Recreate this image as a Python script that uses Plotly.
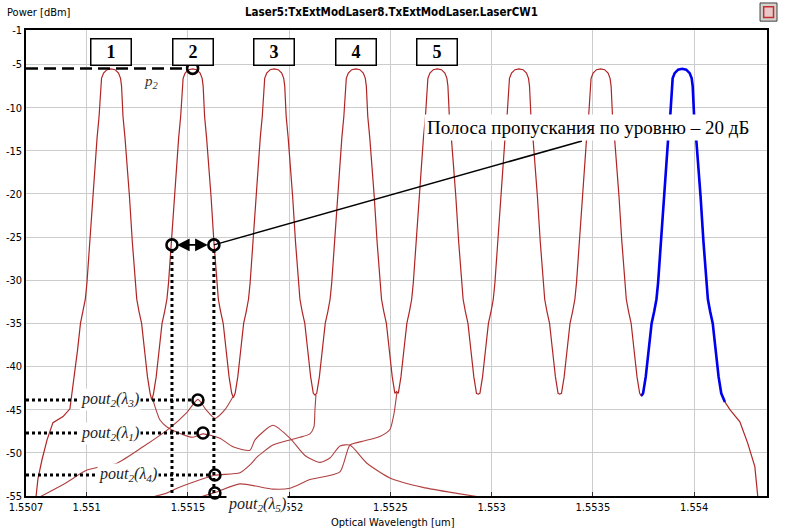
import plotly.graph_objects as go

# ---------------- data ----------------
# channel centre wavelengths [um]
CH_CENTER_UM = [1.55112, 1.551523, 1.551926, 1.552329, 1.552732, 1.553135, 1.553538, 1.553941]
# half-profile of one channel: offset from centre [pm] and power [dBm]
PEAK_OFFSET_PM = [0, 20, 37, 47, 52, 55, 59, 69, 79, 91, 105, 119, 127, 138, 151, 165, 180, 193]
PEAK_LEVEL_DB = [-5.5, -5.6, -6.0, -6.6, -7.5, -9.0, -11.0, -13.5, -16.5, -20.3, -25.5, -30.3,
                 -32.2, -33.6, -35.0, -38.0, -41.2, -43.1]
# dips between neighbouring channels [dBm]
VALLEY_DB = [-43.9, -43.6, -43.3, -42.9, -43.2, -43.2, -43.4]
# outer tails of the spectrum
LEFT_TAIL_UM = [1.550749, 1.550759, 1.550779, 1.550804, 1.550833, 1.550883, 1.550917]
LEFT_TAIL_DB = [-55.2, -53.0, -50.8, -48.5, -46.5, -45.8, -44.9]
RIGHT_TAIL_UM = [1.554152, 1.554177, 1.554226, 1.554265, 1.554300, 1.554315]
RIGHT_TAIL_DB = [-44.1, -45.0, -46.4, -48.9, -51.6, -55.2]

# crosstalk tails
CH1_TAIL_UM = [1.5513272, 1.5513617, 1.5513963, 1.5514457, 1.5515247, 1.5515741, 1.551658, 1.5517222,
               1.5518062, 1.5518309, 1.5519198, 1.5520037, 1.5520778, 1.5521519, 1.5522012, 1.5522506,
               1.5523, 1.552384, 1.5524975, 1.5526605, 1.5528284, 1.5529914]
CH1_TAIL_DB = [-43.9, -46.2, -47.0, -47.6, -48.2, -47.8, -48.3, -49.3, -49.7, -48.5, -46.8, -48.3,
               -50.3, -51.1, -50.6, -49.2, -49.1, -51.2, -52.9, -54.0, -54.7, -55.3]
CH3_TAIL_UM = [1.5507691, 1.5508333, 1.5509025, 1.5510012, 1.5511494, 1.5512778, 1.5514111, 1.5514951,
               1.5515494, 1.5515889, 1.5516333, 1.5516827, 1.5517222]
CH3_TAIL_DB = [-55.1, -54.3, -53.4, -52.0, -51.2, -49.3, -47.1, -45.3, -43.8, -45.0, -46.0, -45.0, -43.5]
CH4_TAIL_UM = [1.5513272, 1.5513963, 1.5514457, 1.5515247, 1.5516333, 1.5517568, 1.5518062, 1.5518407,
               1.5519198, 1.5520037, 1.5520531, 1.5521025, 1.5521222, 1.5521272, 1.5521321]
CH4_TAIL_DB = [-55.1, -54.65, -54.1, -53.4, -52.6, -52.3, -51.4, -50.5, -49.1, -48.5, -48.2, -47.8,
               -47.0, -45.0, -43.3]
CH5_TAIL_UM = [1.5515346, 1.5516333, 1.5517568, 1.5519198, 1.5520037, 1.5521025, 1.5522506, 1.5523,
               1.5523741, 1.5524481, 1.5524975, 1.5525173, 1.5525321]
CH5_TAIL_DB = [-55.3, -54.6, -53.6, -54.2, -54.1, -53.1, -52.2, -49.1, -48.6, -48.1, -47.3, -45.5, -43.0]

X_TICKS = [1.5507, 1.551, 1.5515, 1.552, 1.5525, 1.553, 1.5535, 1.554, 1.55436]
X_TICK_TEXT = ["1.5507", "1.551", "1.5515", "1.552", "1.5525", "1.553", "1.5535", "1.554", "1.55436"]
Y_TICKS = [-1, -5, -10, -15, -20, -25, -30, -35, -40, -45, -50, -55]

BOX_LABELS = ["1", "2", "3", "4", "5"]
BOX_LEVEL_DB = -3.55

P2_LEVEL_DB = -5.45
BW_LEVEL_DB = -25.9
BW_EDGES_UM = [1.551421, 1.551628]
POUT_LABELS = ["<i>pout<sub>2</sub>(λ<sub>3</sub>)</i>", "<i>pout<sub>2</sub>(λ<sub>1</sub>)</i>",
               "<i>pout<sub>2</sub>(λ<sub>4</sub>)</i>", "<i>pout<sub>2</sub>(λ<sub>5</sub>)</i>"]
POUT_POINT_UM = [1.551549, 1.551574, 1.551633, 1.551633]
POUT_POINT_DB = [-43.87, -47.7, -52.56, -54.65]
POUT_LABEL_UM = [1.551115, 1.551115, 1.551204, 1.551841]
POUT_LABEL_DB = [-43.87, -47.7, -52.5]

# ---------------- build traces ----------------
def channel(c):
    xs, ys = [], []
    for off, lv in reversed(list(zip(PEAK_OFFSET_PM[1:], PEAK_LEVEL_DB[1:]))):
        xs.append(c - off * 1e-6); ys.append(lv)
    xs.append(c); ys.append(PEAK_LEVEL_DB[0])
    for off, lv in zip(PEAK_OFFSET_PM[1:], PEAK_LEVEL_DB[1:]):
        xs.append(c + off * 1e-6); ys.append(lv)
    return xs, ys

env_x, env_y = list(LEFT_TAIL_UM), list(LEFT_TAIL_DB)
for k, c in enumerate(CH_CENTER_UM):
    cx, cy = channel(c)
    env_x += cx; env_y += cy
    if k < len(VALLEY_DB):
        env_x.append((c + CH_CENTER_UM[k + 1]) / 2); env_y.append(VALLEY_DB[k])
env_x += RIGHT_TAIL_UM; env_y += RIGHT_TAIL_DB

bx, by = channel(CH_CENTER_UM[-1])
blue_x = [(CH_CENTER_UM[-2] + CH_CENTER_UM[-1]) / 2] + bx + [RIGHT_TAIL_UM[0]]
blue_y = [VALLEY_DB[-1]] + by + [RIGHT_TAIL_DB[0]]

RED = "#b02424"
fig = go.Figure()
for tx, ty in [(CH1_TAIL_UM, CH1_TAIL_DB), (CH3_TAIL_UM, CH3_TAIL_DB),
               (CH4_TAIL_UM, CH4_TAIL_DB), (CH5_TAIL_UM, CH5_TAIL_DB)]:
    fig.add_trace(go.Scatter(x=tx, y=ty, mode="lines",
                             line=dict(color="#b04040", width=1.1, shape="spline", smoothing=0.6),
                             hoverinfo="skip"))
fig.add_trace(go.Scatter(x=env_x, y=env_y, mode="lines", line=dict(color=RED, width=1.2), hoverinfo="skip"))
fig.add_trace(go.Scatter(x=blue_x, y=blue_y, mode="lines", line=dict(color="#0000f0", width=2.6), hoverinfo="skip"))

# ---------------- annotation graphics ----------------
shapes = []
shapes.append(dict(type="line", xref="x", yref="y", x0=X_TICKS[0], x1=CH_CENTER_UM[1] - 0.00004,
                   y0=P2_LEVEL_DB, y1=P2_LEVEL_DB, line=dict(color="black", width=2.5, dash="12px,6px")))
for xe in BW_EDGES_UM:
    shapes.append(dict(type="line", xref="x", yref="y", x0=xe, x1=xe, y0=BW_LEVEL_DB - 0.6, y1=-55,
                       line=dict(color="black", width=3, dash="dot")))
for px_, py_ in zip(POUT_POINT_UM[:3], POUT_POINT_DB[:3]):
    shapes.append(dict(type="line", xref="x", yref="y", x0=X_TICKS[0], x1=px_ - 0.00003, y0=py_, y1=py_,
                       line=dict(color="black", width=3, dash="dot")))
shapes.append(dict(type="line", xref="x", yref="y", x0=1.553446, y0=-13.86, x1=BW_EDGES_UM[1], y1=BW_LEVEL_DB,
                   line=dict(color="black", width=1.5)))
# window button top-right
shapes.append(dict(type="rect", xref="paper", yref="paper", x0=0.9906, x1=1.0135, y0=1.019, y1=1.058,
                   fillcolor="#d6d3ce", line=dict(color="#404040", width=1)))
shapes.append(dict(type="rect", xref="paper", yref="paper", x0=0.9955, x1=1.0088, y0=1.027, y1=1.050,
                   fillcolor="#e8c8c8", line=dict(color="#c03030", width=1.5)))

circ_x = [CH_CENTER_UM[1]] + BW_EDGES_UM + POUT_POINT_UM
circ_y = [P2_LEVEL_DB, BW_LEVEL_DB, BW_LEVEL_DB] + POUT_POINT_DB
fig.add_trace(go.Scatter(x=circ_x, y=circ_y, mode="markers", cliponaxis=False,
                         marker=dict(symbol="circle-open", size=11, color="black", line=dict(width=2.6)),
                         hoverinfo="skip"))

annotations = []
SERIF = "Liberation Serif, Times New Roman, serif"
NARROW = "Liberation Sans Narrow, DejaVu Sans Condensed, Arial Narrow, Liberation Sans, Arial"
for lab, c in zip(BOX_LABELS, CH_CENTER_UM):
    annotations.append(dict(x=c, y=BOX_LEVEL_DB, xref="x", yref="y", text="<b>%s</b>" % lab, showarrow=False,
                            font=dict(family=SERIF, size=18, color="black"), bgcolor="white",
                            bordercolor="black", borderwidth=1.5, borderpad=0, width=39, height=25))
annotations.append(dict(x=1.5513222, y=-7.03, xref="x", yref="y", text="<i>p<sub>2</sub></i>", showarrow=False,
                        font=dict(family=SERIF, size=15, color="#333")))
annotations.append(dict(x=1.553475, y=-12.24, xref="x", yref="y", text="Полоса пропускания по уровню – 20 дБ",
                        showarrow=False, font=dict(family=SERIF, size=19, color="black"), bgcolor="white",
                        borderpad=2))
annotations.append(dict(x=1.551446, y=BW_LEVEL_DB, ax=1.551605, ay=BW_LEVEL_DB, xref="x", yref="y",
                        axref="x", ayref="y", text="", showarrow=True, arrowhead=2, arrowside="end+start",
                        arrowsize=1.4, arrowwidth=1.8, arrowcolor="black", startarrowhead=2, startarrowsize=1.4))
for lab, lx, ly in zip(POUT_LABELS[:3], POUT_LABEL_UM[:3], POUT_LABEL_DB):
    annotations.append(dict(x=lx, y=ly, xref="x", yref="y", text=lab, showarrow=False,
                            font=dict(family=SERIF, size=16, color="#222"), bgcolor="white", borderpad=1))
# pout2(λ5) label sits below the plot frame, so its height is given on the paper scale
annotations.append(dict(x=POUT_LABEL_UM[3], y=-0.018, xref="x", yref="paper", text=POUT_LABELS[3],
                        showarrow=False, yanchor="middle", xanchor="center",
                        font=dict(family=SERIF, size=16, color="#222"), bgcolor="white", borderpad=1))
annotations.append(dict(x=0.4926, y=1.0386, xref="paper", yref="paper", yanchor="middle", xanchor="center",
                        text="<b>Laser5:TxExtModLaser8.TxExtModLaser.LaserCW1</b>",
                        showarrow=False, font=dict(family=NARROW, size=11.5, color="black")))
annotations.append(dict(x=-0.0285, y=1.0386, xref="paper", yref="paper", text="Power [dBm]",
                        xanchor="left", yanchor="middle",
                        showarrow=False, font=dict(family=NARROW, size=11, color="black")))
annotations.append(dict(x=0.495, y=-0.056, xref="paper", yref="paper", text="Optical Wavelength [um]",
                        xanchor="center", yanchor="middle",
                        showarrow=False, font=dict(family=NARROW, size=11, color="black")))

fig.update_layout(
    width=787, height=531, margin=dict(l=26, r=20, t=30, b=35, autoexpand=False),
    paper_bgcolor="white", plot_bgcolor="white", showlegend=False,
    shapes=shapes, annotations=annotations,
    xaxis=dict(range=[X_TICKS[0], X_TICKS[-1]], tickvals=X_TICKS, ticktext=X_TICK_TEXT,
               showgrid=True, gridcolor="#cccccc", gridwidth=1, zeroline=False,
               showline=True, linecolor="black", linewidth=1.5, mirror=True,
               ticks="inside", ticklen=4, tickcolor="#333", automargin=False,
               tickfont=dict(family=NARROW, size=11, color="black")),
    yaxis=dict(range=[-55, -1], tickvals=Y_TICKS, ticktext=[str(v) for v in Y_TICKS],
               showgrid=True, gridcolor="#cccccc", gridwidth=1, zeroline=False,
               showline=True, linecolor="black", linewidth=1.5, mirror=True, ticks="", automargin=False,
               tickfont=dict(family=NARROW, size=11, color="black")),
)
fig.write_html("out.html", config={"displayModeBar": False},
               post_script="document.body.style.margin='0px';document.body.style.overflow='hidden';")
